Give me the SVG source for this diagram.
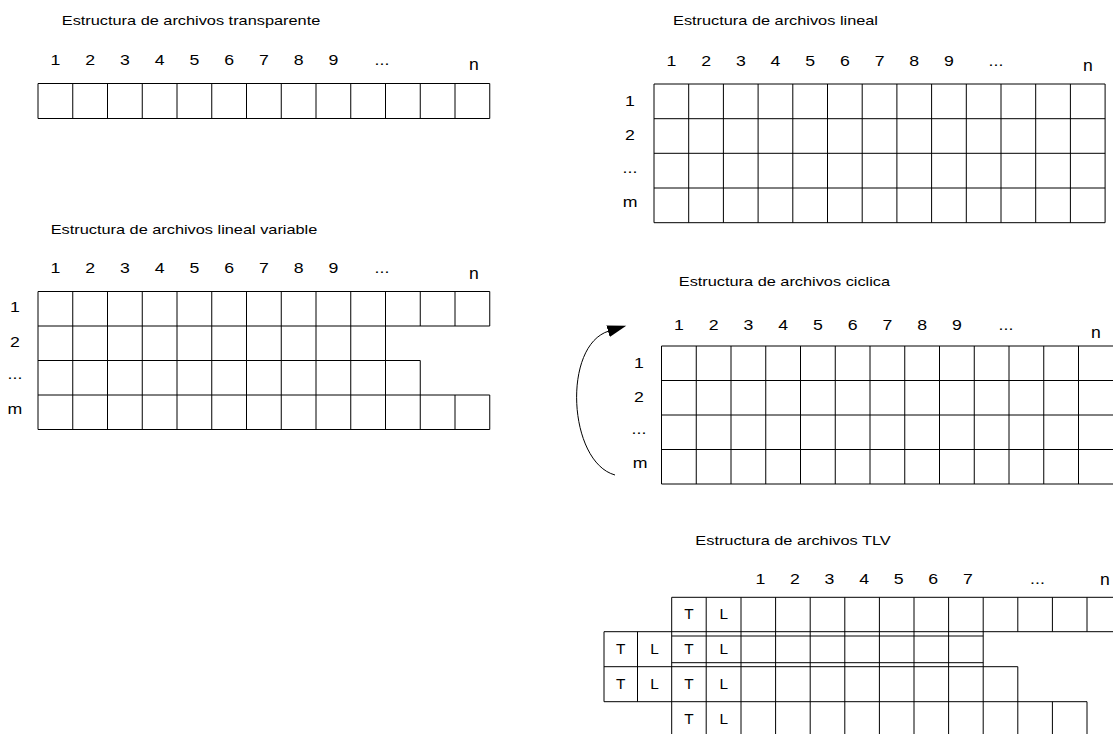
<svg xmlns="http://www.w3.org/2000/svg" width="1113" height="734" viewBox="0 0 1113 734">
<style>
text { font-family: "Liberation Sans", Arial, sans-serif; fill: #000; text-anchor: middle; transform-box: fill-box; transform-origin: center; }
.title { font-size: 13.5px; transform: scaleX(1.21); }
.lbl { font-size: 15px; transform: scaleX(1.18); }
.n { font-size: 16px; transform: scaleX(1.1); }
.tl { font-size: 14px; transform: scaleX(1.1); }
.grid { fill: none; stroke: #000; stroke-width: 1; }
.conn { fill: none; stroke: #000; stroke-width: 1; }
</style>
<defs>
<marker id="arrow" markerUnits="userSpaceOnUse" markerWidth="20" markerHeight="14" refX="1" refY="6" orient="auto">
<path d="M0,0 L19,6 L0,12 z" fill="#000"/>
</marker>
</defs>
<rect width="1113" height="734" fill="#fff"/>

<g id="transparente">
<text class="title" x="191" y="25">Estructura de archivos transparente</text>
<text class="lbl" x="55.4" y="65">1</text><text class="lbl" x="90.1" y="65">2</text><text class="lbl" x="124.9" y="65">3</text><text class="lbl" x="159.6" y="65">4</text><text class="lbl" x="194.4" y="65">5</text><text class="lbl" x="229.1" y="65">6</text><text class="lbl" x="263.9" y="65">7</text><text class="lbl" x="298.6" y="65">8</text><text class="lbl" x="333.4" y="65">9</text><text class="lbl" x="382" y="65">...</text><text class="n" x="474" y="70">n</text>
<path class="grid" d="M38 83.5H489.75M38 118.5H489.75M38 83.5V118.5M72.75 83.5V118.5M107.5 83.5V118.5M142.25 83.5V118.5M177 83.5V118.5M211.75 83.5V118.5M246.5 83.5V118.5M281.25 83.5V118.5M316 83.5V118.5M350.75 83.5V118.5M385.5 83.5V118.5M420.25 83.5V118.5M455 83.5V118.5M489.75 83.5V118.5"/>
</g>

<g id="lineal">
<text class="title" x="775.5" y="25">Estructura de archivos lineal</text>
<text class="lbl" x="671.4" y="66">1</text><text class="lbl" x="706.1" y="66">2</text><text class="lbl" x="740.8" y="66">3</text><text class="lbl" x="775.5" y="66">4</text><text class="lbl" x="810.2" y="66">5</text><text class="lbl" x="844.9" y="66">6</text><text class="lbl" x="879.6" y="66">7</text><text class="lbl" x="914.3" y="66">8</text><text class="lbl" x="949" y="66">9</text><text class="lbl" x="996" y="66">...</text><text class="n" x="1087.8" y="71">n</text>
<text class="lbl" x="630" y="106">1</text><text class="lbl" x="630" y="140.5">2</text><text class="lbl" x="630" y="173.5">...</text><text class="lbl" x="630" y="207.5">m</text>
<path class="grid" d="M654 84H1105.1M654 118.7H1105.1M654 153.3H1105.1M654 188H1105.1M654 222.7H1105.1M654 84V222.7M688.7 84V222.7M723.4 84V222.7M758.1 84V222.7M792.8 84V222.7M827.5 84V222.7M862.2 84V222.7M896.9 84V222.7M931.6 84V222.7M966.3 84V222.7M1001 84V222.7M1035.7 84V222.7M1070.4 84V222.7M1105.1 84V222.7"/>
</g>

<g id="lineal-variable">
<text class="title" x="184" y="234">Estructura de archivos lineal variable</text>
<text class="lbl" x="55.4" y="273.5">1</text><text class="lbl" x="90.1" y="273.5">2</text><text class="lbl" x="124.9" y="273.5">3</text><text class="lbl" x="159.6" y="273.5">4</text><text class="lbl" x="194.4" y="273.5">5</text><text class="lbl" x="229.1" y="273.5">6</text><text class="lbl" x="263.9" y="273.5">7</text><text class="lbl" x="298.6" y="273.5">8</text><text class="lbl" x="333.4" y="273.5">9</text><text class="lbl" x="382" y="273.5">...</text><text class="n" x="474" y="279">n</text>
<text class="lbl" x="15" y="312.5">1</text><text class="lbl" x="15" y="347.5">2</text><text class="lbl" x="15" y="379">...</text><text class="lbl" x="15" y="414">m</text>
<path class="grid" d="M38 291.5H489.75M38 326H489.75M38 360.5H420.25M38 395H489.75M38 429.5H489.75M38 291.5V429.5M72.75 291.5V429.5M107.5 291.5V429.5M142.25 291.5V429.5M177 291.5V429.5M211.75 291.5V429.5M246.5 291.5V429.5M281.25 291.5V429.5M316 291.5V429.5M350.75 291.5V429.5M385.5 291.5V429.5M420.25 291.5V326M420.25 360.5V429.5M455 291.5V326M455 395V429.5M489.75 291.5V326M489.75 395V429.5"/>
</g>

<g id="ciclica">
<text class="title" x="784.5" y="286">Estructura de archivos ciclica</text>
<text class="lbl" x="678.9" y="330">1</text><text class="lbl" x="713.6" y="330">2</text><text class="lbl" x="748.4" y="330">3</text><text class="lbl" x="783.1" y="330">4</text><text class="lbl" x="817.9" y="330">5</text><text class="lbl" x="852.6" y="330">6</text><text class="lbl" x="887.4" y="330">7</text><text class="lbl" x="922.1" y="330">8</text><text class="lbl" x="956.9" y="330">9</text><text class="lbl" x="1006" y="330">...</text><text class="n" x="1096" y="338">n</text>
<text class="lbl" x="639" y="368">1</text><text class="lbl" x="639" y="402.5">2</text><text class="lbl" x="639" y="434">...</text><text class="lbl" x="640" y="468.3">m</text>
<path class="grid" d="M661.5 346H1114M661.5 380.5H1114M661.5 415H1114M661.5 449.5H1114M661.5 484H1114M661.5 346V484M696.25 346V484M731 346V484M765.75 346V484M800.5 346V484M835.25 346V484M870 346V484M904.75 346V484M939.5 346V484M974.25 346V484M1009 346V484M1043.75 346V484M1078.5 346V484"/>
</g>

<g id="tlv">
<text class="title" x="793" y="545">Estructura de archivos TLV</text>
<text class="lbl" x="760.3" y="584.5">1</text><text class="lbl" x="794.9" y="584.5">2</text><text class="lbl" x="829.5" y="584.5">3</text><text class="lbl" x="864.1" y="584.5">4</text><text class="lbl" x="898.7" y="584.5">5</text><text class="lbl" x="933.3" y="584.5">6</text><text class="lbl" x="967.9" y="584.5">7</text><text class="lbl" x="1037.5" y="584.5">...</text><text class="n" x="1105" y="585">n</text>
<text class="tl" x="688.9" y="619.5">T</text><text class="tl" x="723.9" y="619.5">L</text>
<text class="tl" x="620.8" y="654">T</text><text class="tl" x="654.6" y="654">L</text><text class="tl" x="688.9" y="654">T</text><text class="tl" x="723.9" y="654">L</text>
<text class="tl" x="620.8" y="689">T</text><text class="tl" x="654.6" y="689">L</text><text class="tl" x="688.9" y="689">T</text><text class="tl" x="723.9" y="689">L</text>
<text class="tl" x="688.9" y="724">T</text><text class="tl" x="723.9" y="724">L</text>
<path class="grid" d="M671.7 597.3H1114M604 631.7H1114M671.7 636H983.2M671.7 662.7H983.2M604 666.7H1017.8M604 701.7H1087M604 631.7V701.7M637.5 631.7V701.7M671.7 597.3V736M706.2 597.3V736M741 597.3V736M775.6 597.3V736M810.2 597.3V736M844.8 597.3V736M879.4 597.3V736M914 597.3V736M948.6 597.3V736M983.2 597.3V736M1017.8 597.3V631.7M1017.8 666.7V736M1052.4 597.3V631.7M1052.4 701.7V736M1087 597.3V631.7M1087 701.7V736"/>
</g>

<g id="connectors">
<path class="conn" d="M615 475 C568 462 562 345 609 331" marker-end="url(#arrow)"/>
</g>
</svg>
